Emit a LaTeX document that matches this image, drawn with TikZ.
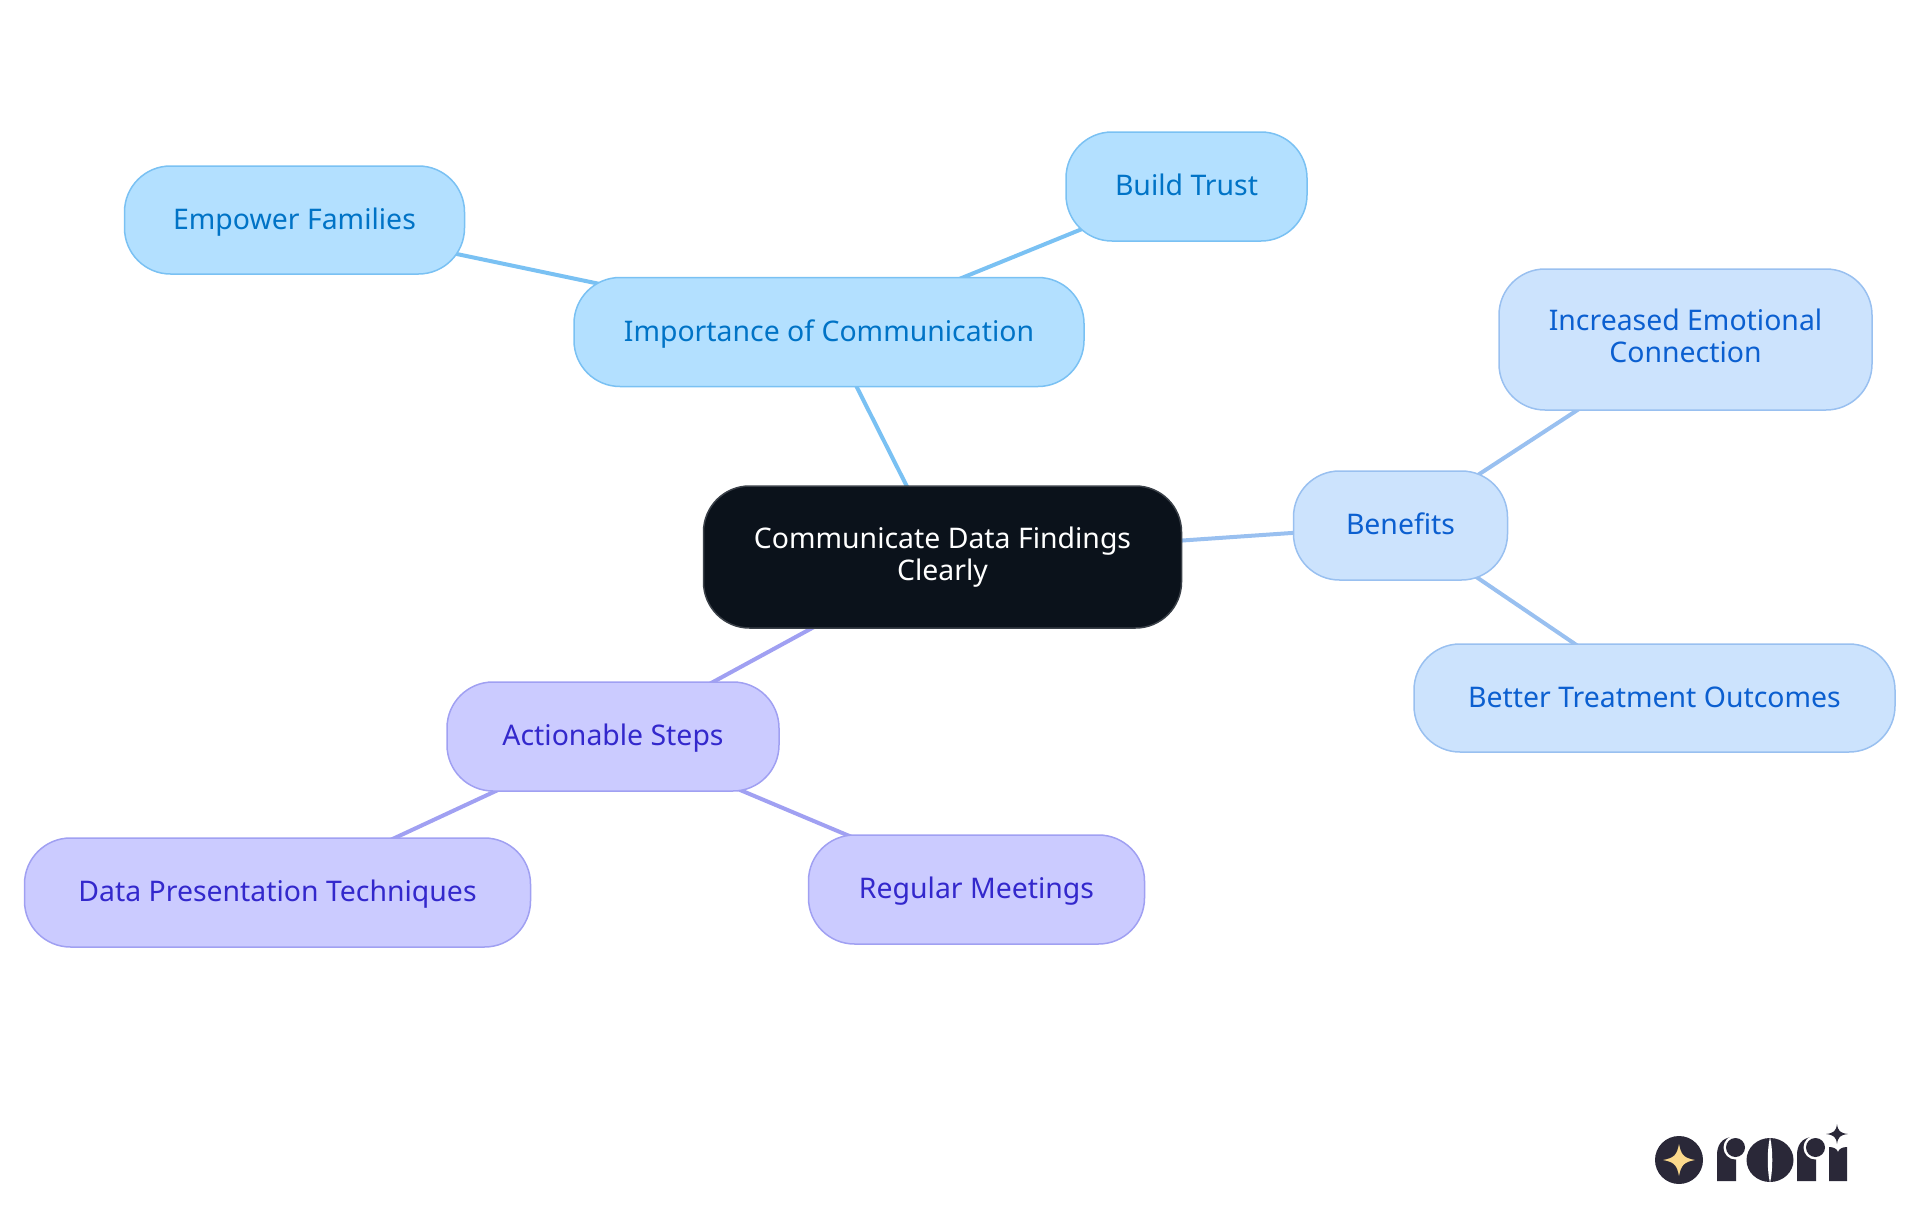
\documentclass[tikz,border=0pt]{standalone}
\usepackage{fontspec}
\setmainfont{Noto Sans}
\usetikzlibrary{backgrounds}

\definecolor{rootfill}{HTML}{0B121B}
\definecolor{rootline}{HTML}{3A4048}
\definecolor{skyfill}{HTML}{B3E0FF}
\definecolor{skyline}{HTML}{7AC1F3}
\definecolor{skytext}{HTML}{0073C6}
\definecolor{bluefill}{HTML}{CCE3FD}
\definecolor{blueline}{HTML}{99C0F0}
\definecolor{bluetext}{HTML}{0B5FD0}
\definecolor{violetfill}{HTML}{CBCBFF}
\definecolor{violetline}{HTML}{A0A0F2}
\definecolor{violettext}{HTML}{3328CC}
\definecolor{logodark}{HTML}{2A2838}
\definecolor{logogold}{HTML}{FBD98C}

\newcommand{\linestrut}{\rule[-6.6pt]{0pt}{32pt}}

\tikzset{
    mapnode/.style={draw, line width=1.5pt, rounded corners=46pt, align=center, inner sep=0pt, font=\fontsize{28.4}{32}\selectfont,
        execute at begin node={\linestrut}, execute at end node={\linestrut}},
    rootnode/.style={mapnode, fill=rootfill, draw=rootline, text=white},
    skynode/.style={mapnode, fill=skyfill, draw=skyline, text=skytext},
    bluenode/.style={mapnode, fill=bluefill, draw=blueline, text=bluetext},
    violetnode/.style={mapnode, fill=violetfill, draw=violetline, text=violettext},
    skylink/.style={draw=skyline, line width=4pt},
    bluelink/.style={draw=blueline, line width=4pt},
    violetlink/.style={draw=violetline, line width=4pt}
}

\begin{document}
\begin{tikzpicture}[x=1pt, y=-1pt]
    \useasboundingbox (0,0) rectangle (1920,1215);

    \node[rootnode, minimum width=478pt, minimum height=142pt] (root) at (942.5,557) {Communicate Data Findings\\Clearly};

    \node[skynode, minimum width=510pt, minimum height=109pt] (importance) at (829,332) {Importance of Communication};
    \node[skynode, minimum width=241pt, minimum height=109pt] (trust) at (1186.5,186.5) {Build Trust};
    \node[skynode, minimum width=340pt, minimum height=108pt] (empower) at (294.5,220) {Empower Families};

    \node[bluenode, minimum width=214pt, minimum height=109pt] (benefits) at (1400.5,525.5) {Benefits};
    \node[bluenode, minimum width=373pt, minimum height=141pt] (emotional) at (1685.5,339.5) {Increased Emotional\\Connection};
    \node[bluenode, minimum width=481pt, minimum height=108pt] (outcomes) at (1654.5,698) {Better Treatment Outcomes};

    \node[violetnode, minimum width=332pt, minimum height=109pt] (steps) at (613,736.5) {Actionable Steps};
    \node[violetnode, minimum width=506pt, minimum height=109pt] (techniques) at (277.5,892.5) {Data Presentation Techniques};
    \node[violetnode, minimum width=336pt, minimum height=109pt] (meetings) at (976.5,889.5) {Regular Meetings};

    \begin{pgfonlayer}{background}
        \draw[skylink] (root.center) -- (importance.center);
        \draw[skylink] (importance.center) -- (trust.center);
        \draw[skylink] (importance.center) -- (empower.center);
        \draw[bluelink] (root.center) -- (benefits.center);
        \draw[bluelink] (benefits.center) -- (emotional.center);
        \draw[bluelink] (benefits.center) -- (outcomes.center);
        \draw[violetlink] (root.center) -- (steps.center);
        \draw[violetlink] (steps.center) -- (techniques.center);
        \draw[violetlink] (steps.center) -- (meetings.center);
    \end{pgfonlayer}

    % logo
    \fill[logodark] (1679,1160) circle (24);
    \fill[logogold] (1679,1144) .. controls (1681,1155) and (1684,1158) .. (1695,1160) .. controls (1684,1162) and (1681,1165) .. (1679,1176) .. controls (1677,1165) and (1674,1162) .. (1663,1160) .. controls (1674,1158) and (1677,1155) .. (1679,1144) -- cycle;
    \foreach \dx in {0,80} {
        \fill[logodark] (1717+\dx,1181) -- (1717+\dx,1155) .. controls (1717+\dx,1146) and (1721+\dx,1138) .. (1732+\dx,1137) -- (1736+\dx,1150) -- (1736+\dx,1181) -- cycle;
        \fill[white] (1735.5+\dx,1147.5) circle (12);
        \fill[logodark] (1735.5+\dx,1147.5) circle (9.5);
    }
    \fill[logodark] (1770,1160) ellipse (23.5 and 22);
    \fill[white] (1770,1137) .. controls (1773,1150) and (1773,1170) .. (1770,1183) .. controls (1767,1170) and (1767,1150) .. (1770,1137) -- cycle;
    \fill[logodark] (1829,1181) -- (1829,1147) .. controls (1834,1147) and (1837,1149) .. (1838,1152) .. controls (1839,1149) and (1842,1147) .. (1847,1147) -- (1847,1181) -- cycle;
    \fill[logodark] (1837,1124) .. controls (1838,1131) and (1840,1133) .. (1848,1134) .. controls (1840,1135) and (1838,1137) .. (1837,1144) .. controls (1836,1137) and (1834,1135) .. (1826,1134) .. controls (1834,1133) and (1836,1131) .. (1837,1124) -- cycle;
\end{tikzpicture}
\end{document}
